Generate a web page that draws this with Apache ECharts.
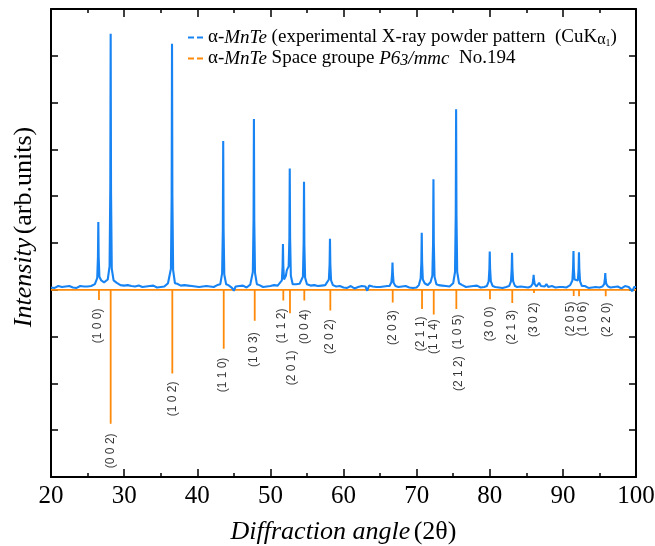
<!DOCTYPE html>
<html>
<head>
<meta charset="utf-8">
<script src="https://cdn.jsdelivr.net/npm/echarts@6/dist/echarts.min.js"></script>
<style>html,body{margin:0;padding:0;background:#fff;}#c{width:655px;height:546px;}</style>
</head>
<body>
<div id="c"></div>
<script>
// ---- axis ticks ----
const xTicks = [20, 30, 40, 50, 60, 70, 80, 90, 100];

// ---- experimental background, sampled from 20 to 100 every 0.25 deg ----
const bgStart = 20, bgStep = 0.25;
const background = [
  0.05,0.07,0.04,0.06,0.08,0.05,0.06,0.04,0.07,0.05,0.08,0.06,0.05,0.07,0.04,0.06,0.08,0.05,0.07,0.06,
  0.07,0.05,0.08,0.09,0.12,0,0,0,0.2,0.16,0.15,0.19,0,0,0,0.2,0.15,0.12,0.1,0.11,
  0.09,0.07,0.1,0.06,0.08,0.11,0.07,0.05,0.09,0.08,0.06,0.1,0.07,0.04,0.08,0.06,0.09,0.07,0.05,0.08,
  0.06,0.09,0.07,0.1,0.14,0,0,0,0.18,0.13,0.11,0.09,0.08,0.1,0.07,0.09,0.06,0.08,0.1,0.07,
  0.08,0.06,0.09,0.07,0.05,0.08,0.1,0.07,0.09,0.06,0.08,0.1,0.14,0,0,0,0.15,0.1,0.08,0.04,
  -0.02,0.07,0.05,0.08,0.06,0.09,0.07,0.05,0.08,0.11,0,0,0,0.14,0.1,0.08,0.06,0.09,0.07,0.05,
  0.08,0.06,0.1,0.07,0.09,0.12,0,0,0,0,0,0,0,0.16,0.12,0.1,0.13,0,0,0,
  0,0.12,0.09,0.07,0.1,0.06,0.08,0.05,0.09,0.07,0.1,0,0,0,0,0.1,0.07,0.05,0.08,0.06,
  0.05,0.07,0.04,0.06,0.08,0.05,0.03,0.07,0.06,0.04,0.08,0.05,0.07,-0.02,0.09,0.05,0.07,0.04,0.06,0.05,
  0.06,0.04,0.07,0.05,0.08,0.06,0,0,0,0.08,0.06,0.04,0.07,0.05,0.08,0.06,0.05,0.07,0.04,0.06,
  0.05,0.08,0,0,0,0.12,0.1,0.14,0,0,0,0.14,0.1,0.07,0.09,0.06,0.08,0.05,0.07,0.1,
  0,0,0,0,0.14,0.1,0.08,0.06,0.09,0.07,0.05,0.08,0.06,0.09,0.07,0.05,0.08,0.06,0.09,0,
  0,0,0.09,0.06,0.08,0.05,0.07,0.04,0.08,0.06,0.09,0,0,0,0.08,0.06,0.05,0.07,0.09,0.06,
  0.07,0.05,0.08,0,0,0,0.09,0.15,0.08,0.05,0.07,0.12,0.06,0.04,0.08,0.06,0.05,0.09,0.06,0.04,
  0.06,0.08,0.05,0.07,0.1,0,0,0,0,0,0,0.12,0.08,0.06,0.04,0.07,0.05,0.08,0.06,0.04,
  0.05,0.07,0,0,0,0.08,0.05,0.03,0.06,0.04,0.07,0.05,0.03,0.06,0.08,0.04,0.06,0.05,-0.03,0.06,
  0.06
];

// ---- experimental peaks: centre angle and profile values ----
const peakOffsets = [-0.4, -0.15, -0.05, 0, 0.05, 0.15, 0.4];
const peakAngles = [26.47, 28.16, 36.55, 43.55, 47.75, 51.72, 52.65, 54.6, 58.15, 66.7,
                    70.7, 72.3, 75.4, 80.0, 83.05, 86.0, 91.45, 92.2, 95.8];
const peakProfiles = [
  [0.12,0.25,0.7,1.45,0.7,0.28,0.2],
  [0.22,0.5,2.2,5.47,2.1,0.45,0.2],
  [0.14,0.45,2.0,5.26,2.0,0.42,0.14],
  [0.12,0.35,1.3,3.18,1.3,0.32,0.12],
  [0.12,0.38,1.5,3.65,1.45,0.36,0.12],
  [0.12,0.2,0.5,0.98,0.5,0.22,0.3],
  [0.42,0.5,1.1,2.59,1.1,0.3,0.12],
  [0.12,0.28,1.0,2.31,0.95,0.26,0.12],
  [0.1,0.22,0.55,1.09,0.55,0.2,0.1],
  [0.08,0.16,0.35,0.58,0.35,0.15,0.08],
  [0.1,0.24,0.6,1.22,0.6,0.22,0.14],
  [0.16,0.3,1.0,2.36,1.0,0.28,0.12],
  [0.14,0.38,1.6,3.86,1.6,0.38,0.14],
  [0.08,0.18,0.45,0.82,0.45,0.18,0.08],
  [0.08,0.18,0.45,0.79,0.45,0.18,0.08],
  [0.07,0.12,0.22,0.32,0.22,0.12,0.07],
  [0.1,0.2,0.48,0.83,0.45,0.22,0.22],
  [0.22,0.2,0.45,0.80,0.45,0.18,0.08],
  [0.07,0.12,0.24,0.36,0.22,0.12,0.07]
];

// ---- reference pattern (P6_3/mmc) sticks ----
const stickAngles = [26.56, 28.16, 36.59, 43.62, 47.86, 51.77, 52.68, 54.64, 58.2, 66.73,
                     70.74, 72.34, 75.43, 80.03, 83.08, 86.05, 91.48, 92.21, 95.86];
const stickValues = [-0.22, -2.86, -1.79, -1.26, -0.66, -0.23, -0.5, -0.23, -0.44, -0.27,
                     -0.41, -0.53, -0.41, -0.2, -0.28, -0.07, -0.13, -0.14, -0.14];

// ---- hkl labels ----
const hklLabels = ['(1 0 0)','(0 0 2)','(1 0 2)','(1 1 0)','(1 0 3)','(1 1 2)','(2 0 1)','(0 0 4)','(2 0 2)','(2 0 3)',
                   '(2 1 1)','(1 1 4)','(1 0 5)','(2 1 2)','(3 0 0)','(2 1 3)','(3 0 2)','(2 0 5)','(1 0 6)','(2 2 0)'];
const hklAngles = [26.4, 28.15, 36.6, 43.5, 47.75, 51.48, 52.91, 54.7, 58.13, 66.75,
                   70.55, 72.27, 75.6, 75.79, 80.0, 83.04, 86.05, 91.07, 92.71, 96.0];
const hklValues = [-0.77, -3.44, -2.33, -1.82, -1.28, -0.77, -1.67, -0.79, -1.0, -0.81,
                   -0.94, -1.0, -0.9, -1.79, -0.73, -0.8, -0.64, -0.62, -0.62, -0.64];

// ---- build series data ----
const expData = [];
background.forEach((v, i) => {
  const x = bgStart + i * bgStep;
  if (peakAngles.every(a => Math.abs(x - a) > 0.42)) expData.push([x, v]);
});
peakAngles.forEach((a, k) => {
  peakOffsets.forEach((o, j) => expData.push([a + o, peakProfiles[k][j]]));
});
expData.sort((p, q) => p[0] - q[0]);

const refData = [[20, 0]];
stickAngles.forEach((a, k) => { refData.push([a, 0], [a, stickValues[k]], [a, 0]); });
refData.push([100, 0]);

const labelData = hklLabels.map((t, k) => ({ name: t, value: [hklAngles[k], hklValues[k]] }));

const BLUE = '#1884F3', ORANGE = '#FF8A0A';
const serif = 'Liberation Serif';
const LF = 19;
const legendRich = {
  n: { fontFamily: serif, fontSize: LF, color: '#000', lineHeight: 21 },
  i: { fontFamily: serif, fontSize: LF, fontStyle: 'italic', color: '#000', lineHeight: 21 },
  s: { fontFamily: serif, fontSize: 16, color: '#000', lineHeight: 13, verticalAlign: 'bottom' },
  ss: { fontFamily: serif, fontSize: 10, color: '#000', lineHeight: 8, verticalAlign: 'bottom' },
  si: { fontFamily: serif, fontSize: 16, fontStyle: 'italic', color: '#000', lineHeight: 13, verticalAlign: 'bottom' }
};
const legendText = {
  exp: '{n|α-}{i|MnTe}{n| (experimental X-ray powder pattern  (CuK}{s|α}{ss|1}{n|)}',
  calc: '{n|α-}{i|MnTe}{n| Space groupe }{i|P6}{si|3}{i|/mmc}{n|  No.194}'
};

const axisLineStyle = { show: true, onZero: false, lineStyle: { color: '#000', width: 2 } };
const xCommon = {
  type: 'value', min: 20, max: 100, interval: 10,
  axisLine: axisLineStyle,
  axisTick: { show: true, inside: true, length: 8, lineStyle: { color: '#000', width: 1.5 } },
  minorTick: { show: true, splitNumber: 2, length: 4, lineStyle: { color: '#000', width: 1.5 } },
  splitLine: { show: false }
};
const yCommon = {
  type: 'value', min: -4, max: 6, interval: 1,
  axisLine: axisLineStyle,
  axisTick: { show: true, inside: true, length: 7, lineStyle: { color: '#000', width: 1.5 } },
  axisLabel: { show: false },
  splitLine: { show: false }
};
const titleRich = {
  i: { fontFamily: serif, fontSize: 26, fontStyle: 'italic', color: '#000' },
  n: { fontFamily: serif, fontSize: 26, color: '#000' }
};

const chart = echarts.init(document.getElementById('c'), null, { renderer: 'canvas' });
chart.setOption({
  animation: false,
  backgroundColor: '#fff',
  grid: { left: 51, right: 19, top: 9, bottom: 69, containLabel: false, outerBoundsMode: 'none' },
  legend: {
    orient: 'vertical', left: 183, top: 23, itemGap: 1,
    itemWidth: 15, itemHeight: 3,
    data: [
      { name: 'exp', icon: 'path://M0,0h6v2h-6z M9,0h6v2h-6z' },
      { name: 'calc', icon: 'path://M0,0h6v2h-6z M9,0h6v2h-6z' }
    ],
    formatter: name => legendText[name],
    textStyle: { rich: legendRich },
    selectedMode: false
  },
  xAxis: [
    Object.assign({}, xCommon, {
      position: 'bottom',
      axisLabel: {
        show: true, fontFamily: serif, fontSize: 25, color: '#000', margin: 7,
        formatter: v => (xTicks.indexOf(v) >= 0 ? String(v) : '')
      },
      name: '{i|Diffraction angle} {n|(2θ)}',
      nameLocation: 'middle', nameGap: 42,
      nameTextStyle: { rich: titleRich }
    }),
    Object.assign({}, xCommon, { position: 'top', axisLabel: { show: false } })
  ],
  yAxis: [
    Object.assign({}, yCommon, {
      position: 'left',
      name: '{i|Intensity} {n|(arb.units)}',
      nameLocation: 'middle', nameGap: 14, nameRotate: 90,
      nameTextStyle: { padding: [0, 0, 0, 32], rich: titleRich }
    }),
    Object.assign({}, yCommon, { position: 'right' })
  ],
  series: [
    {
      name: 'calc', type: 'line', data: refData, showSymbol: false, symbol: 'none',
      lineStyle: { color: ORANGE, width: 1.8 }, itemStyle: { color: ORANGE }, z: 2
    },
    {
      name: 'exp', type: 'line', data: expData, showSymbol: false, symbol: 'none',
      lineStyle: { color: BLUE, width: 2.1 }, itemStyle: { color: BLUE }, z: 3
    },
    {
      name: 'hkl', type: 'scatter', data: labelData, symbolSize: 1,
      itemStyle: { color: 'rgba(0,0,0,0)' },
      label: {
        show: true, position: 'inside', rotate: 90, formatter: p => p.name,
        fontFamily: 'Liberation Sans', fontSize: 12, color: '#000'
      },
      z: 4
    }
  ]
});
</script>
</body>
</html>
